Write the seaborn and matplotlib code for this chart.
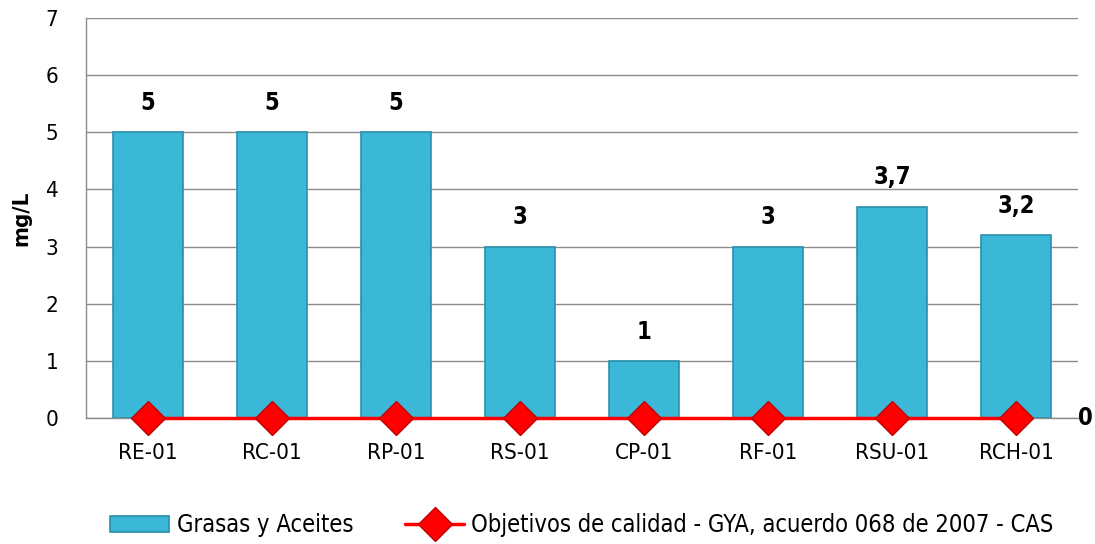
import matplotlib
matplotlib.use("Agg")
import matplotlib.pyplot as plt
import seaborn as sns
import numpy as np
import pandas as pd

categories = ["RE-01", "RC-01", "RP-01", "RS-01", "CP-01", "RF-01", "RSU-01", "RCH-01"]
grasas = [5, 5, 5, 3, 1, 3, 3.7, 3.2]
objetivo = [0, 0, 0, 0, 0, 0, 0, 0]
bar_labels = ["5", "5", "5", "3", "1", "3", "3,7", "3,2"]
yticks = [0, 1, 2, 3, 4, 5, 6, 7]

sns.set_theme(style="white")
plt.rcParams['font.family'] = ['DejaVu Sans']
plt.rcParams['font.stretch'] = 'condensed'
plt.rcParams['text.color'] = 'black'
plt.rcParams['xtick.color'] = 'black'
plt.rcParams['ytick.color'] = 'black'
plt.rcParams['axes.labelcolor'] = 'black'

fig = plt.figure(figsize=(10.95, 5.44), dpi=100)
ax = fig.add_axes([0.0785, 0.2316, 0.906, 0.7354])

df = pd.DataFrame({"cat": categories, "val": grasas})
sns.barplot(data=df, x="cat", y="val", color="#3BB8D8", width=0.57, ax=ax,
            edgecolor="#2A8FAA", linewidth=1.2, saturation=1, zorder=2,
            label="Grasas y Aceites")

ax.plot(np.arange(len(categories)), objetivo, color="#FF0000", linewidth=2.5,
        marker="D", markersize=17, markerfacecolor="#FF0000",
        markeredgecolor="#C00000", markeredgewidth=1, zorder=4, clip_on=False,
        label="Objetivos de calidad - GYA, acuerdo 068 de 2007 - CAS")

for i, (v, t) in enumerate(zip(grasas, bar_labels)):
    ax.text(i, v + 0.3, t, ha="center", va="bottom", fontsize=17, fontweight="bold")
ax.text(1.0, 0, "0", ha="left", va="center", fontsize=17, fontweight="bold",
        transform=ax.get_yaxis_transform(), clip_on=False)

ax.set_xlim(-0.5, len(categories) - 0.5)
ax.set_ylim(0, 7)
ax.set_yticks(yticks)
ax.set_yticklabels([str(t) for t in yticks], fontsize=16)
ax.tick_params(axis="x", labelsize=16, pad=12)
ax.tick_params(axis="y", pad=14)
ax.set_xlabel("")
ax.set_ylabel("mg/L", fontsize=16, fontweight="bold", labelpad=10)
ax.yaxis.grid(True, color="#8C8C8C", linewidth=1)
ax.set_axisbelow(True)
for s in ["top", "right"]:
    ax.spines[s].set_visible(False)
for s in ["left", "bottom"]:
    ax.spines[s].set_color("#8C8C8C")
    ax.spines[s].set_linewidth(1)

handles, labels = ax.get_legend_handles_labels()
order = [labels.index("Grasas y Aceites"),
         labels.index("Objetivos de calidad - GYA, acuerdo 068 de 2007 - CAS")]
ax.legend([handles[i] for i in order], [labels[i] for i in order],
          loc="upper center", bbox_to_anchor=(0.5, -0.185), ncol=2, frameon=False,
          fontsize=17, handlelength=2.5, columnspacing=2.2, handletextpad=0.3)

fig.savefig("out.png", dpi=100)
